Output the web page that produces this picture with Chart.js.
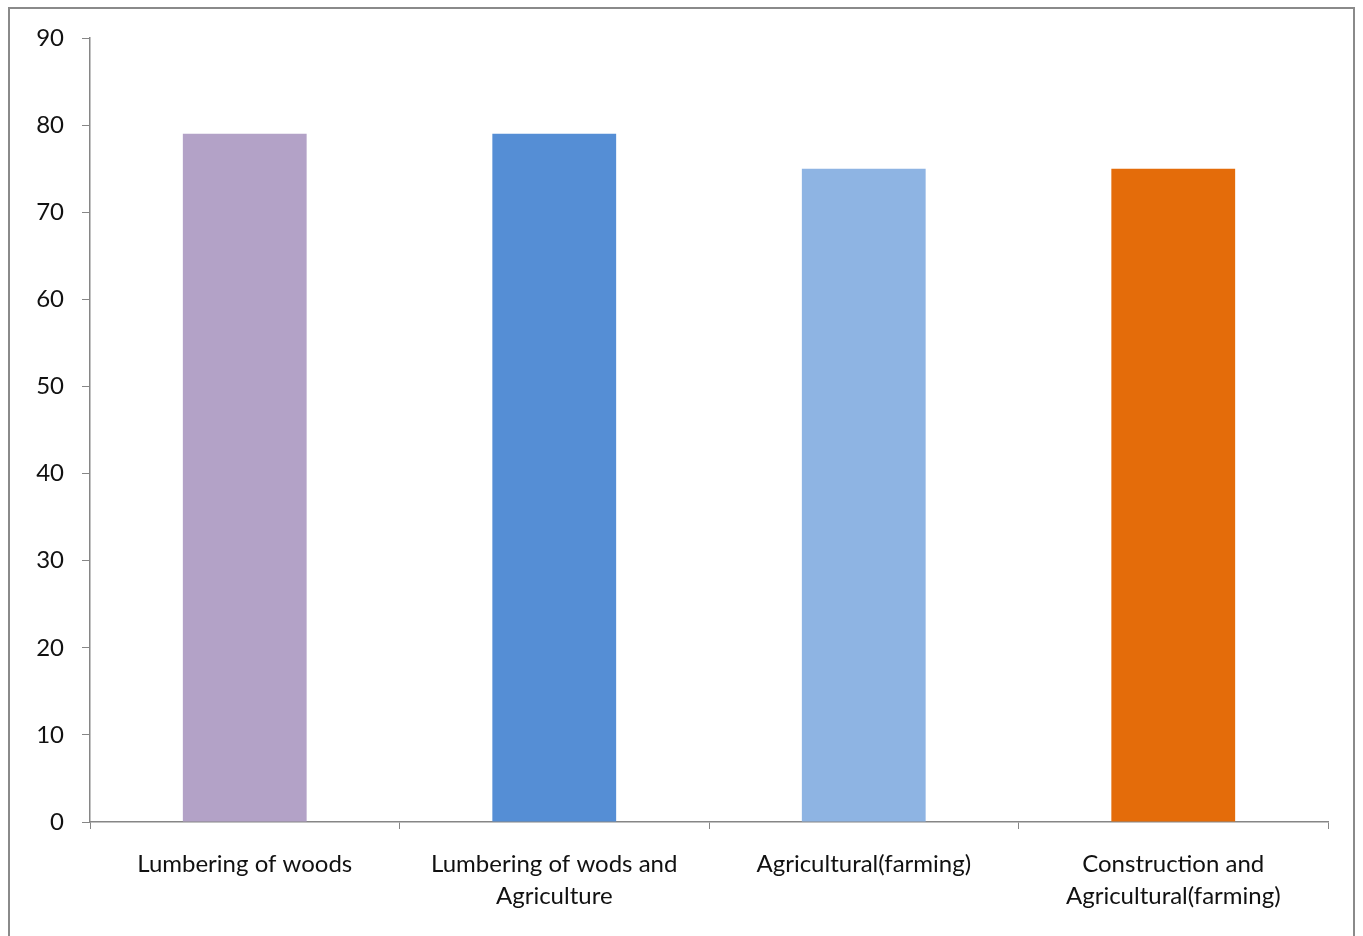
<!DOCTYPE html>
<html>
<head>
<meta charset="utf-8">
<script src="https://cdn.jsdelivr.net/npm/chart.js@4"></script>
<style>
  html, body { margin: 0; padding: 0; background: #fff; overflow: hidden; }
  #frame {
    position: absolute; left: 8px; top: 7px; width: 1347px; height: 960px;
    border: 2px solid #8a8a8a; box-sizing: border-box;
  }
  #wrap { position: absolute; left: 0; top: 0; width: 1363px; height: 936px; }
</style>
</head>
<body>
<div id="frame"></div>
<div id="wrap"><canvas id="c" width="1363" height="936"></canvas></div>
<script>
// datos del gráfico
const categorias = [
  'Lumbering of woods',
  ['Lumbering of wods and', 'Agriculture'],
  'Agricultural(farming)',
  ['Construction and', 'Agricultural(farming)']
];
const valores = [79, 79, 75, 75];
const colores = ['#b3a2c7', '#558ed5', '#8eb4e3', '#e46c0a'];
const ticksY = [0, 10, 20, 30, 40, 50, 60, 70, 80, 90];

const FUENTE = "Lato, 'Open Sans', sans-serif";
const GRIS = '#868686';

new Chart(document.getElementById('c'), {
  type: 'bar',
  data: {
    labels: categorias,
    datasets: [{
      data: valores,
      backgroundColor: colores,
      borderWidth: 0,
      categoryPercentage: 1,
      barPercentage: 0.4,
    }]
  },
  options: {
    responsive: false,
    animation: false,
    layout: { padding: { left: 0, top: 38, right: 35, bottom: 0 } },
    plugins: {
      legend: { display: false },
      tooltip: { enabled: false }
    },
    scales: {
      x: {
        grid: { drawOnChartArea: false, tickLength: 7, color: GRIS, offset: true },
        border: { color: GRIS, width: 1.5 },
        ticks: {
          color: '#111',
          font: { family: FUENTE, size: 24, lineHeight: 1.3 },
          padding: 20,
          maxRotation: 0,
          autoSkip: false
        },
        afterFit: s => { s.height = 114; }
      },
      y: {
        min: 0, max: 90,
        afterBuildTicks: s => { s.ticks = ticksY.map(v => ({ value: v })); },
        grid: { drawOnChartArea: false, tickLength: 8, color: GRIS },
        border: { color: GRIS, width: 1.5 },
        ticks: {
          color: '#111',
          font: { family: FUENTE, size: 24 },
          padding: 18
        },
        afterFit: s => { s.width = 90; }
      }
    }
  }
});
</script>
</body>
</html>
